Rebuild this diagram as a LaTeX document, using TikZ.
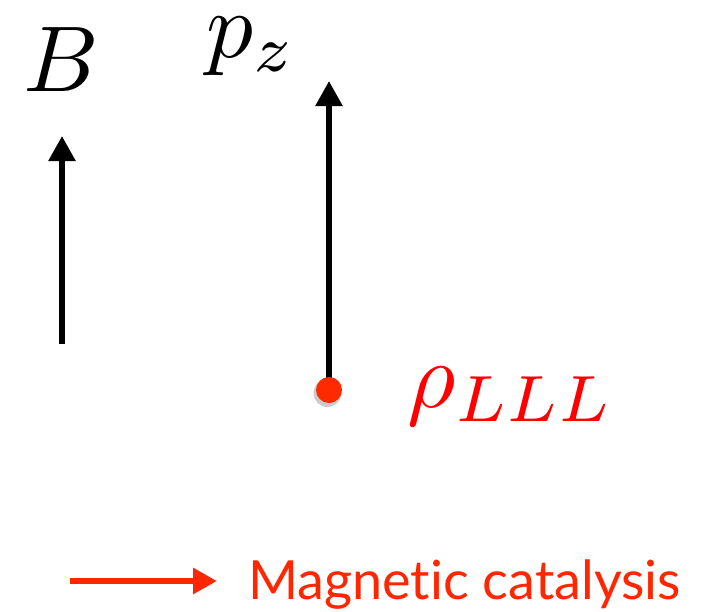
\documentclass[tikz,border=0pt]{standalone}
\usepackage{graphicx}
\usepackage{fontspec}
\newfontfamily\catfont[Ligatures=NoCommon]{Lato}
\usetikzlibrary{arrows.meta}
\definecolor{dotred}{HTML}{FF2A00}
\definecolor{labred}{HTML}{FF0000}
\definecolor{catred}{HTML}{FF2600}
\newcommand{\bigmath}[1]{\scalebox{9.35}{\normalsize$#1$}}
\begin{document}
\begin{tikzpicture}[x=1pt,y=-1pt,
  vec/.style={line width=5.5pt, -{Triangle[length=25pt,width=26pt]}},
  lab/.style={inner sep=0pt, anchor=base west}]
\useasboundingbox (0,0) rectangle (720,611);
\node[lab] (B) at (23,91) {\bigmath{B}};
\node[lab] (pz) at (206,57) {\bigmath{p_z}};
\node[lab, text=labred] (rho) at (407,407) {\bigmath{\rho_{LLL}}};
\coordinate (Bs) at (62,344);
\coordinate (Be) at (62,136);
\draw[vec] (Bs) -- (Be);
\coordinate (dotc) at (329,390);
\coordinate (pze) at (329,81);
\draw[vec] (dotc) -- (pze);
\fill[black, opacity=0.2] ([xshift=-1.5pt,yshift=-3pt]dotc) circle (14pt);
\fill[dotred] (dotc) circle (13pt);
\coordinate (as) at (70,581);
\coordinate (ae) at (217,581);
\node[inner sep=0pt, anchor=base west, text=catred, font=\catfont\fontsize{54}{54}\selectfont] (cat) at (248,599) {Magnetic catalysis};
\draw[catred, line width=6pt, -{Triangle[length=24pt,width=25pt]}] (as) -- (ae);
\end{tikzpicture}
\end{document}
